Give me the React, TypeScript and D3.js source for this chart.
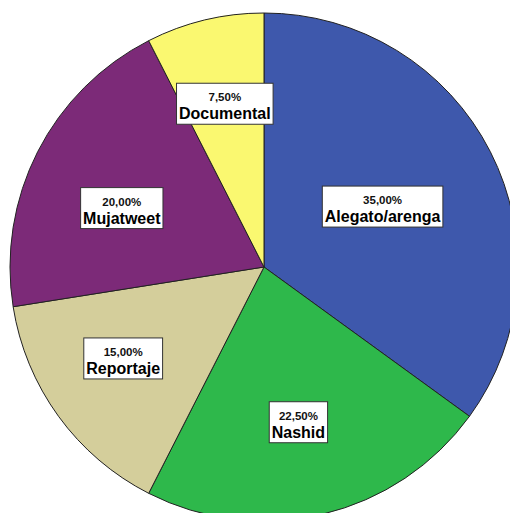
import * as d3 from "d3";

const categories = ["Alegato/arenga", "Nashid", "Reportaje", "Mujatweet", "Documental"];
const percents = [35.0, 22.5, 15.0, 20.0, 7.5];
const colors = ["#3E58AC", "#2EB84B", "#D4CE9B", "#7C2A78", "#FAF870"];

// label placement: distance from centre (fraction of radius) and angle nudge (deg)
const labelDist = [0.524, 0.626, 0.661, 0.606, 0.661];
const labelNudge = [0, 1, 3, -4.5, 0];

const width = 510;
const height = 513;
const cx = 264;
const cy = 267;
const radius = 254;

const fmt = (v: number) => v.toFixed(2).replace(".", ",") + "%";

function textWidth(s: string, size: number) {
  const c = document.createElement("canvas").getContext("2d")!;
  c.font = `bold ${size}px "Liberation Sans", Arial, sans-serif`;
  return c.measureText(s).width;
}

export default function App() {
  const pie = d3.pie<number>().sort(null).value((d) => d);
  const arcs = pie(percents);
  const arc = d3.arc<d3.PieArcDatum<number>>().innerRadius(0).outerRadius(radius);

  return (
    <svg
      width={width}
      height={height}
      style={{ position: "absolute", left: 0, top: 0, background: "#fff" }}
      fontFamily='"Liberation Sans", Arial, sans-serif'
      fontWeight="bold"
    >
      <g transform={`translate(${cx},${cy})`}>
        {arcs.map((a, i) => (
          <path key={i} d={arc(a)!} fill={colors[i]} stroke="#222" strokeWidth={1} />
        ))}
        {arcs.map((a, i) => {
          const mid = (a.startAngle + a.endAngle) / 2 + (labelNudge[i] * Math.PI) / 180;
          const r = labelDist[i] * radius;
          const x = r * Math.sin(mid);
          const y = -r * Math.cos(mid);
          const w = Math.max(textWidth(categories[i], 16), textWidth(fmt(percents[i]), 11.5)) + 5;
          const h = 41;
          return (
            <g key={"l" + i} transform={`translate(${x},${y})`}>
              <rect x={-w / 2} y={-h / 2} width={w} height={h} fill="#fff" stroke="#333" strokeWidth={1} />
              <text y={-2.5} textAnchor="middle" fontSize={11.5} fill="#111">
                {fmt(percents[i])}
              </text>
              <text y={15.5} textAnchor="middle" fontSize={16} fill="#000">
                {categories[i]}
              </text>
            </g>
          );
        })}
      </g>
    </svg>
  );
}
